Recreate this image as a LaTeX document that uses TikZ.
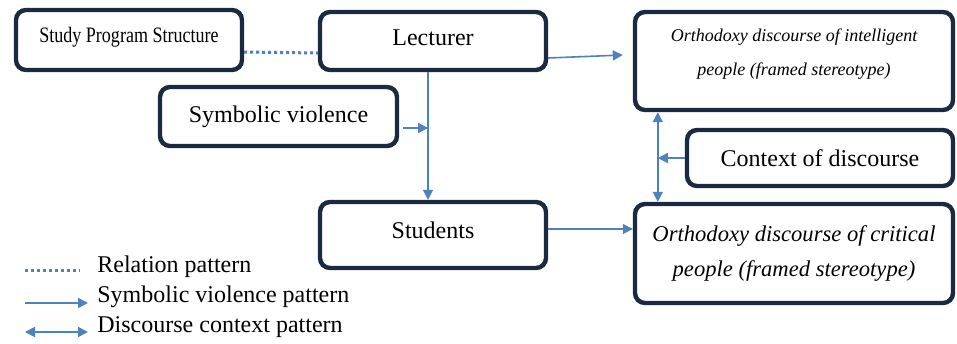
\documentclass[tikz,border=0pt]{standalone}
\usepackage{fontspec}
\setmainfont{Liberation Serif}
\usetikzlibrary{arrows.meta,positioning,calc}
\definecolor{boxline}{RGB}{27,42,65}
\definecolor{linkblue}{RGB}{79,129,189}

\begin{document}
\begin{tikzpicture}[x=0.5pt,y=-0.5pt,
    box/.style={draw=boxline, line width=2.2pt, rounded corners=5pt, fill=white, inner sep=2pt, align=center, font=\fontsize{12}{14}\selectfont},
    relation/.style={draw=linkblue, line width=1.5pt, dash pattern=on 1.5pt off 1.5pt},
    violence/.style={draw=linkblue, line width=0.8pt, -{Triangle[length=5pt,width=5pt]}},
    context/.style={draw=linkblue, line width=0.8pt, {Triangle[length=5pt,width=5pt]}-{Triangle[length=5pt,width=5pt]}},
    legtext/.style={anchor=west, inner sep=0pt, font=\fontsize{12}{14}\selectfont}]
    \useasboundingbox (0,0) rectangle (957,343);

    % boxes
    \node[box, minimum width=113pt, minimum height=30pt, text depth=5.4pt] (study) at (129,40) {\scalebox{0.82}[1]{\fontsize{11}{13}\selectfont Study Program Structure}};
    \node[box, minimum width=113pt, minimum height=29pt, text depth=3pt] (lecturer) at (433,41) {Lecturer};
    \node[box, minimum width=118.5pt, minimum height=29.5pt] (symbolic) at (278.5,116.5) {Symbolic violence};
    \node[box, minimum width=159pt, minimum height=49pt, text depth=8.5pt, font=\itshape\fontsize{9}{17}\selectfont] (intelligent) at (794,61) {Orthodoxy discourse of intelligent\\people (framed stereotype)};
    \node[box, minimum width=133pt, minimum height=28pt] (context) at (820,158) {Context of discourse};
    \node[box, minimum width=113pt, minimum height=33pt, text depth=5pt] (students) at (433,235) {Students};
    \node[box, minimum width=159pt, minimum height=49.5pt, font=\itshape\fontsize{11.3}{17.5}\selectfont] (critical) at (794,253.5) {Orthodoxy discourse of critical\\people (framed stereotype)};

    % connectors
    \draw[relation] ([yshift=-6pt]study.east) -- ([yshift=-6pt]lecturer.west);
    \draw[violence] ([xshift=-2.5pt]lecturer.south) -- ([xshift=-2.5pt]students.north);
    \coordinate (svin) at ([yshift=-5.75pt,xshift=2pt]symbolic.east);
    \coordinate (svout) at ([xshift=-2.5pt]lecturer.south |- svin);
    \draw[violence] (svin) -- (svout);
    \draw[violence] ([yshift=-8.5pt]lecturer.east) -- ([yshift=3pt,xshift=-5pt]intelligent.west);
    \coordinate (stout) at ([yshift=3pt]students.east);
    \draw[violence] (stout) -- (critical.west |- stout);
    \coordinate (dtop) at ([xshift=12.5pt]intelligent.south west);
    \coordinate (dbot) at (dtop |- critical.north);
    \draw[context] (dbot) -- (dtop);
    \draw[violence] (context.west) -- (context.west -| dtop);

    % legend
    \node[legtext] (relleg) at (97,267) {Relation pattern};
    \node[legtext] (violeg) at (97,297) {Symbolic violence pattern};
    \node[legtext] (ctxleg) at (97,327) {Discourse context pattern};
    \coordinate (rel0) at (25,270);
    \coordinate (rel1) at (80,270);
    \coordinate (vio0) at (25,303);
    \coordinate (vio1) at (88,303);
    \coordinate (ctx0) at (25,332);
    \coordinate (ctx1) at (88,332);
    \draw[relation] (rel0) -- (rel1);
    \draw[violence] (vio0) -- (vio1);
    \draw[context] (ctx0) -- (ctx1);
\end{tikzpicture}
\end{document}
